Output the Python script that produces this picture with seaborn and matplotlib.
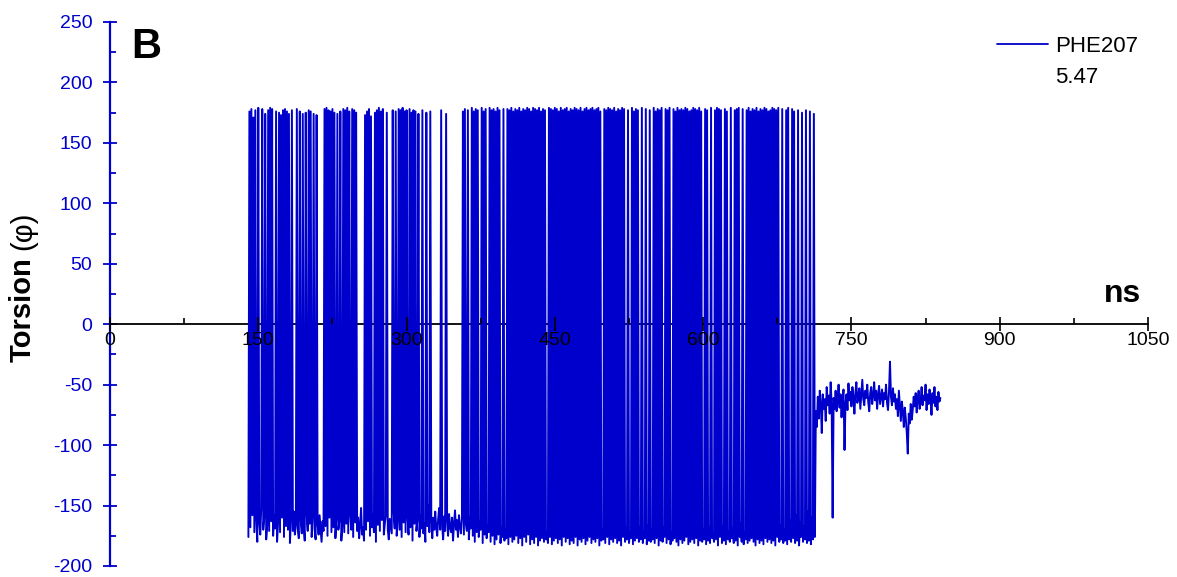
import numpy as np
import pandas as pd
import seaborn as sns
import matplotlib.pyplot as plt
from matplotlib.lines import Line2D
from matplotlib.ticker import MultipleLocator

# PHE207 (5.47) side-chain torsion, one frame per ns
start_ns = 140

# 140-389 ns: separate flips between the two rotamers
phi_sparse = [
    -176, 176, -168, 178, -158, 171, -172, 177, -162, -180,
    179, -165, -174, -152, 178, -170, -160, 174, -178, -166,
    177, -171, 179, -163, 178, -175, -158, -169, 176, -180,
    -164, 175, -172, 173, -160, 177, -176, 178, -167, 176,
    -170, 174, -181, -163, 177, -171, -155, -174, -166, 178,
    -169, -177, 176, -162, -173, 174, -167, -179, 175, -158,
    -171, 177, -165, 176, -176, -160, 174, -170, -178, 173,
    -166, -174, -158, -169, -180, -163, -171, 178, -167, 179,
    -175, 177, -160, 176, -172, 178, -168, 175, -177, -161,
    174, -170, -163, 176, -179, -167, 178, -172, 177, -165,
    179, -173, 176, -158, -170, 178, -176, 177, -164, 175,
    -171, -160, -177, -166, -152, -174, -168, -179, 173, -170,
    176, -163, 178, -175, 172, -168, -157, -172, 175, -180,
    177, -166, 179, -171, 176, -162, 178, -174, -165, -159,
    175, -170, -178, -161, -167, -173, 177, -156, -169, 176,
    -175, -163, 178, -170, 177, -176, 179, -164, 176, -172,
    177, -160, -174, 178, -168, 175, -179, 177, -165, 176,
    -171, -162, 174, -176, -158, -169, 177, -173, -165, -180,
    175, -167, -150, -172, 176, -164, -177, -160, -170, -155,
    -168, -175, -161, -152, -170, 177, -166, -178, -159, -171,
    174, -163, -175, -157, -168, -172, -160, -179, -165, -154,
    -170, -162, -176, -158, -167, -173, -161, 176, -174, 178,
    -165, -171, 177, -178, -160, -169, 179, -175, 176, -180,
    178, -172, 177, -176, -163, -170, 179, -181, 176, -174,
    178, -177, -166, -172, 179, -180, 177, -175, 178, -182,
]

# 390-713 ns: near-continuous flipping
phi_dense = [
    176, -178, 179, -174, 177, -181, -168, -176, 178, -179,
    -170, -177, 178, -182, 177, -176, 179, -180, 176, -178,
    178, -175, 177, -181, 179, -177, 176, -183, 178, -176,
    177, -180, 179, -174, 178, -182, 176, -178, 179, -181,
    178, -176, 177, -183, 179, -179, 176, -177, 178, -180,
    177, -178, -172, -181, 179, -176, 178, -182, 177, -179,
    179, -177, 178, -181, 176, -178, 179, -183, 177, -176,
    178, -180, 179, -177, 176, -182, 178, -179, 177, -181,
    179, -176, 178, -183, 177, -178, 179, -180, 176, -177,
    178, -182, 179, -179, 177, -176, 178, -181, 179, -178,
    177, -180, 178, -177, 179, -183, 176, -179, -170, -178,
    178, -181, 177, -176, 179, -182, 178, -178, 177, -180,
    179, -177, 176, -181, 178, -179, 177, -183, 179, -176,
    178, -180, -169, -178, 177, -181, -172, -177, 179, -182,
    176, -179, 178, -177, 177, -180, -168, -178, 179, -181,
    -171, -177, 178, -182, -166, -179, 177, -180, -170, -178,
    179, -181, 176, -177, 178, -183, 177, -179, 179, -180,
    -168, -176, 178, -181, 177, -178, 179, -182, -172, -179,
    178, -177, 176, -180, 179, -183, 177, -178, 178, -181,
    177, -179, 179, -176, 178, -182, 176, -180, 177, -178,
    179, -181, 178, -177, 177, -183, 179, -179, 176, -180,
    -170, -178, 178, -182, 177, -179, -168, -181, 179, -177,
    -173, -180, 177, -178, 179, -183, 178, -176, 177, -181,
    -167, -179, 178, -182, 176, -178, -171, -180, 179, -177,
    -169, -181, 177, -179, 178, -183, 179, -176, -165, -180,
    178, -182, -172, -178, 177, -181, 179, -179, 176, -177,
    178, -180, 177, -183, 179, -178, 176, -181, 178, -179,
    177, -182, 179, -177, 178, -180, 176, -178, 177, -181,
    179, -179, 178, -183, 177, -176, 179, -180, -166, -178,
    178, -181, -170, -179, 177, -182, 179, -178, -162, -180,
    178, -177, 176, -181, -158, -179, 177, -183, -164, -176,
    175, -180, -167, -178, 177, -181, -155, -179, 176, -182,
    -160, -178, 174, -176,
]

# 714-840 ns: settled near -60
phi_late = [
    -72, -85, -60, -78, -55, -66, -90, -58, -70, -62,
    -80, -52, -67, -59, -74, -48, -66, -160, -61, -70,
    -55, -72, -63, -50, -69, -58, -77, -62, -54, -104,
    -66, -58, -71, -49, -63, -56, -68, -52, -60, -74,
    -57, -48, -65, -60, -53, -70, -58, -46, -62, -67,
    -55, -61, -50, -64, -72, -57, -52, -66, -59, -48,
    -63, -55, -70, -58, -51, -66, -60, -54, -68, -57,
    -62, -50, -65, -71, -56, -31, -60, -67, -53, -64,
    -58, -70, -62, -76, -55, -68, -80, -64, -72, -85,
    -69, -78, -90, -107, -74, -82, -66, -79, -71, -60,
    -68, -57, -73, -62, -55, -70, -64, -52, -67, -59,
    -63, -50, -71, -58, -66, -54, -62, -75, -57, -65,
    -52, -68, -60, -71, -56, -64, -61,
]

series_label = 'PHE207'
series_note = '5.47'
x_ticks = [0, 150, 300, 450, 600, 750, 900, 1050]
y_ticks = [-200, -150, -100, -50, 0, 50, 100, 150, 200, 250]

torsion = phi_sparse + phi_dense + phi_late
df = pd.DataFrame({'ns': np.arange(start_ns, start_ns + len(torsion)),
                   'phi': torsion})

blue = '#0000CC'
W, H = 1177, 577

sns.set_theme(style='ticks')
plt.rcParams['font.family'] = ['Liberation Sans', 'DejaVu Sans']
plt.rcParams['axes.unicode_minus'] = False
plt.rcParams['text.color'] = 'black'

fig = plt.figure(figsize=(W / 100, H / 100), dpi=100)
ax = fig.add_axes([110 / W, 1 - 566 / H, 1038 / W, 544 / H])

sns.lineplot(data=df, x='ns', y='phi', ax=ax, color=blue, lw=1.4,
             estimator=None, sort=False, legend=False)
for ln in ax.lines:
    ln.set_zorder(3)

ax.set_xlim(0, 1050)
ax.set_ylim(-200, 250)
ax.set_xlabel('')
ax.set_ylabel('')

# axes: y spine in blue on the left, x axis crossing at zero
ax.spines[['top', 'right']].set_visible(False)
ax.spines['bottom'].set_position(('data', 0))
ax.spines['bottom'].set_color('black')
ax.spines['bottom'].set_linewidth(1.3)
ax.spines['left'].set_color(blue)
ax.spines['left'].set_linewidth(1.6)
# x tick labels sit on top of the trace, the zero line stays under it
ax.xaxis.set_zorder(4)

ax.set_xticks(x_ticks)
ax.xaxis.set_minor_locator(MultipleLocator(75))
ax.set_yticks(y_ticks)
ax.yaxis.set_minor_locator(MultipleLocator(25))

ax.tick_params(axis='x', which='major', direction='inout', length=9.5, width=1.2,
               color='black', labelcolor='black', labelsize=14, pad=1)
ax.tick_params(axis='x', which='minor', direction='in', length=4.5, width=1.2,
               color='black', bottom=True)
ax.tick_params(axis='y', which='major', direction='inout', length=9.5, width=1.3,
               color=blue, labelcolor=blue, labelsize=14, pad=8)
ax.tick_params(axis='y', which='minor', direction='in', length=4.5, width=1.3,
               color=blue, left=True)

# annotations
ax.text(22, 220, 'B', fontsize=30, fontweight='bold', color='black', va='baseline')
ax.text(1024, 18, 'ns', fontsize=23, fontweight='bold', color='black',
        ha='center', va='baseline')

fig.text(23 / W, 1 - 362 / H, 'Torsion', rotation=90, fontsize=21,
         fontweight='bold', color='black', ha='center', va='bottom')
fig.text(23 / W, 1 - 250 / H, '(φ)', rotation=90, fontsize=21,
         color='black', ha='center', va='bottom')

handles = [Line2D([], [], color=blue, lw=1.3), Line2D([], [], color='none')]
leg = ax.legend(handles, [series_label, series_note], loc='upper left',
                bbox_to_anchor=(997 / W, 1 - 36 / H), bbox_transform=fig.transFigure,
                frameon=False, fontsize=16, handlelength=2.3, handletextpad=0.3,
                labelspacing=0.45, borderpad=0, borderaxespad=0)
for t in leg.get_texts():
    t.set_color('black')

fig.savefig('out.png', dpi=100)
